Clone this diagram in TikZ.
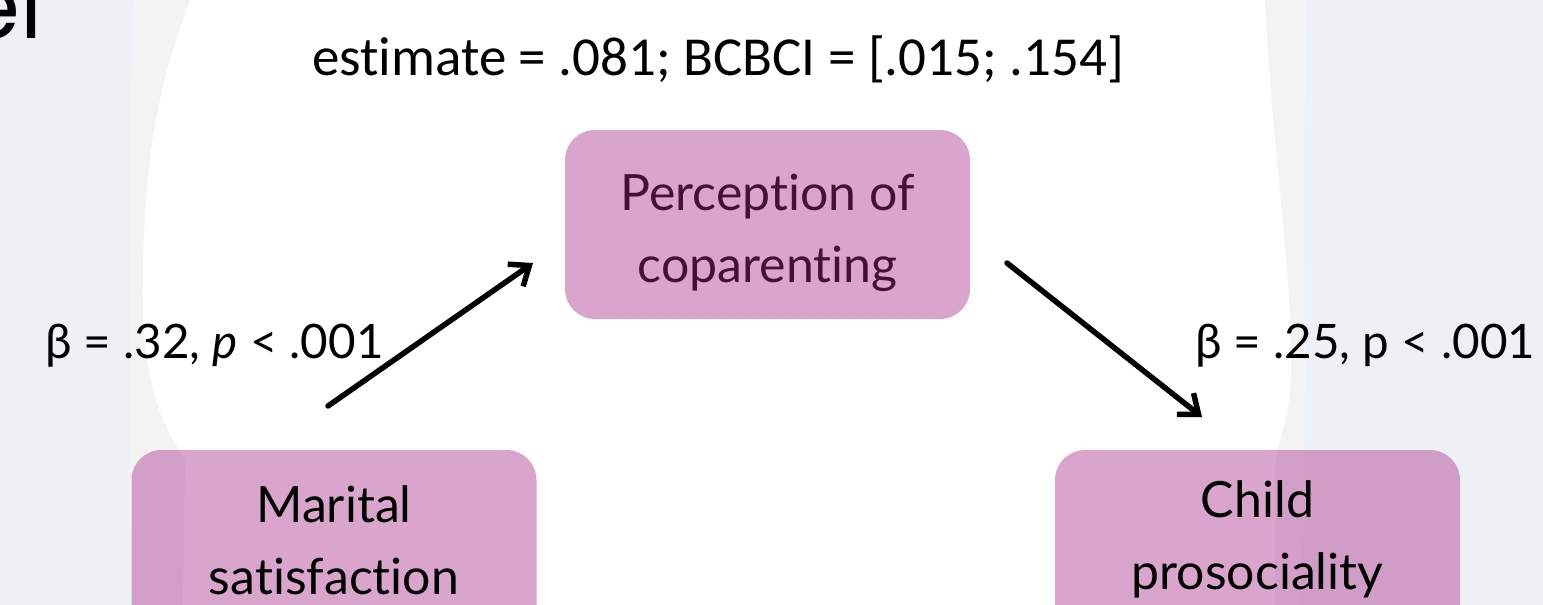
\documentclass[tikz,border=0pt]{standalone}
\usepackage{fontspec}
\setmainfont{Lato}[Ligatures={NoCommon}]
\newfontfamily\calfont{Carlito}[Ligatures={NoCommon}]
\newfontfamily\popfont{Poppins}
\usetikzlibrary{arrows.meta}
\definecolor{bgblue}{RGB}{237,241,245}
\definecolor{bgband}{RGB}{243,243,244}
\definecolor{pinkbase}{RGB}{167,38,135}
\definecolor{darkplum}{RGB}{72,14,56}
\newcommand{\toppush}{\rule{0pt}{54pt}}
\newcommand{\lowdepth}[1]{\rule[-#1]{0pt}{0pt}}
\tikzset{
  box/.style={rounded corners=30pt, minimum width=405pt, minimum height=189pt,
    fill=pinkbase, fill opacity=0.41, text opacity=1, align=center, inner sep=0pt,
    font=\fontsize{50}{72}\selectfont},
  lowbox/.style={box, text=black},
  lbl/.style={inner sep=0pt, anchor=base west, font=\fontsize{47.5}{54}\selectfont},
  arr/.style={line width=5.5pt, line cap=round, line join=round,
    -{Straight Barb[length=17pt,width=27pt]}}
}
\begin{document}
\begin{tikzpicture}[x=1pt,y=-1pt]
\useasboundingbox (0,0) rectangle (1543,605);
% background
\fill[bgblue] (0,0) rectangle (1543,605);
\fill[bgband] (133,0) -- (1307,0) .. controls (1300,200) and (1310,400) .. (1300,605)
  -- (132,605) .. controls (128,400) and (128,200) .. (133,0) -- cycle;
\fill[white] (190,0) -- (1265,0) .. controls (1272,150) and (1290,250) .. (1291,360)
  .. controls (1292,420) and (1276,440) .. (1275,470) -- (1275,605) -- (183,605)
  -- (185,460) .. controls (160,420) and (140,380) .. (143,270)
  .. controls (145,150) and (160,80) .. (190,0) -- cycle;
% title fragment
\node[inner sep=0pt, anchor=base east, font=\popfont\fontsize{90}{100}\selectfont] (ttl) at (43,38) {el};
% estimate
\node[inner sep=0pt, anchor=base west, font=\calfont\fontsize{55}{60}\selectfont] (est) at (312,75) {estimate = .081; BCBCI = [.015; .154]};
% boxes
\node[box, text=darkplum] (pc) at (767.5,224.5) {\toppush Perception of\\coparenting};
\node[lowbox] (ms) at (334,544.5) {Marital\\satisfaction\lowdepth{9pt}};
\node[lowbox] (cp) at (1257.5,544.5) {Child\\prosociality\lowdepth{19pt}};
% labels
\node[lbl] (l1) at (45,358) {β = .32, \textit{p} < .001};
\node[lbl] (l2) at (1195,358) {β = .25, p < .001};
% arrows
\coordinate (a1s) at (328,406);
\coordinate (a1e) at (533,263);
\coordinate (a2s) at (1007,263);
\coordinate (a2e) at (1202,417);
\draw[arr] (a1s) -- (a1e);
\draw[arr] (a2s) -- (a2e);
\end{tikzpicture}
\end{document}
